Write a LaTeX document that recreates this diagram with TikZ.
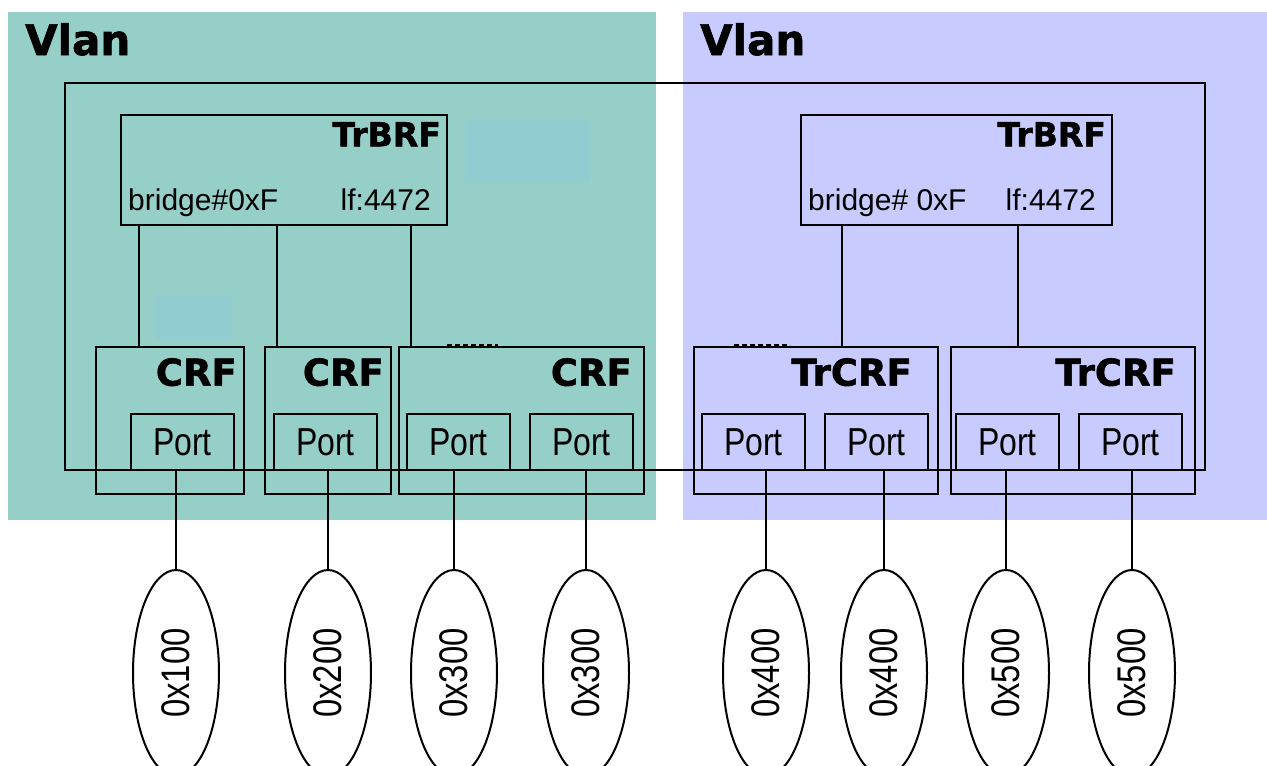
\documentclass[tikz,border=0pt]{standalone}
\usepackage{fontspec}
\setmainfont{Liberation Sans}
\newfontfamily\heavy{DejaVu Sans}[BoldFeatures={FakeBold=1.5}]
\newfontfamily\narrow{Liberation Sans}[FakeStretch=0.82]
\definecolor{vgreen}{HTML}{96CEC8}
\definecolor{vgreenb}{HTML}{90CCD0}
\definecolor{vblue}{HTML}{C8CBFE}
\tikzset{
  box/.style={draw, line width=2pt, inner sep=0pt, outer sep=0pt, anchor=north west},
  portbox/.style={box, minimum width=103pt, minimum height=56pt, font=\narrow\fontsize{39}{39}\selectfont},
  crfbox/.style={box, minimum height=147pt},
  brfbox/.style={box, minimum height=110pt},
  heavylbl/.style={inner sep=0pt, font=\heavy\bfseries\fontsize{37}{37}\selectfont},
  brflbl/.style={inner sep=0pt, font=\heavy\bfseries\fontsize{33}{33}\selectfont},
  vlanlbl/.style={inner sep=0pt, anchor=base west, font=\heavy\bfseries\fontsize{42}{42}\selectfont},
  infolbl/.style={inner sep=0pt, font=\fontsize{30}{30}\selectfont},
  ell/.style={draw, ellipse, line width=2pt, minimum width=86pt, minimum height=206pt, inner sep=0pt, font=\narrow\fontsize{40}{40}\selectfont},
  link/.style={line width=2pt},
  marks/.style={line width=3pt, dash pattern=on 5pt off 3pt}
}
\usetikzlibrary{shapes.geometric}
\begin{document}
\begin{tikzpicture}[x=1pt,y=-1pt]
\useasboundingbox (0,0) rectangle (1267,766);
\fill[white] (0,0) rectangle (1267,766);
\fill[vgreen] (8,12) rectangle (656,520);
\fill[vblue] (683,12) rectangle (1267,520);
\fill[vgreenb] (465,120) rectangle (590,181);
\fill[vgreenb] (155,296) rectangle (232,340);
\node[vlanlbl] (vl1) at (25,55) {Vlan};
\node[vlanlbl] (vl2) at (700,55) {Vlan};
% outer frame
\node[box, minimum width=1140pt, minimum height=387pt] (outer) at (65,83) {};
% TrBRF boxes
\node[brfbox, minimum width=326pt] (brfL) at (121,115) {};
\node[brfbox, minimum width=311pt] (brfR) at (801,115) {};
\node[brflbl, anchor=north east] at ([xshift=-6pt,yshift=-7pt]brfL.north east) {TrBRF};
\node[brflbl, anchor=north east] at ([xshift=-6pt,yshift=-7pt]brfR.north east) {TrBRF};
\node[infolbl, anchor=base west] at ([xshift=7pt,yshift=15pt]brfL.south west) {bridge\#0xF};
\node[infolbl, anchor=base east] at ([xshift=-16pt,yshift=15pt]brfL.south east) {lf:4472};
\node[infolbl, anchor=base west] at ([xshift=7pt,yshift=15pt]brfR.south west) {bridge\# 0xF};
\node[infolbl, anchor=base east] at ([xshift=-16pt,yshift=15pt]brfR.south east) {lf:4472};
% CRF boxes
\node[crfbox, minimum width=148pt] (c1) at (96,347) {};
\node[crfbox, minimum width=126pt] (c2) at (265,347) {};
\node[crfbox, minimum width=245pt] (c3) at (399,347) {};
\node[crfbox, minimum width=244pt] (c4) at (694,347) {};
\node[crfbox, minimum width=244pt] (c5) at (951,347) {};
\node[heavylbl, anchor=north east] at ([xshift=-7pt,yshift=-11pt]c1.north east) {CRF};
\node[heavylbl, anchor=north east] at ([xshift=-7pt,yshift=-11pt]c2.north east) {CRF};
\node[heavylbl, anchor=north east] at ([xshift=-12pt,yshift=-11pt]c3.north east) {CRF};
\node[heavylbl, anchor=north east] at ([xshift=-26pt,yshift=-11pt]c4.north east) {TrCRF};
\node[heavylbl, anchor=north east] at ([xshift=-19pt,yshift=-11pt]c5.north east) {TrCRF};
% ports
\node[portbox] (p1) at (131,414) {Port};
\node[portbox] (p2) at (274,414) {Port};
\node[portbox] (p3) at (407,414) {Port};
\node[portbox] (p4) at (530,414) {Port};
\node[portbox] (p5) at (702,414) {Port};
\node[portbox] (p6) at (825,414) {Port};
\node[portbox] (p7) at (956,414) {Port};
\node[portbox] (p8) at (1079,414) {Port};
% links TrBRF -> CRF
\coordinate (t1) at (139,347);
\coordinate (t2) at (277,347);
\coordinate (t3) at (411,347);
\coordinate (t4) at (842,347);
\coordinate (t5) at (1018,347);
\draw[link] (t1 |- brfL.south) -- (t1);
\draw[link] (t2 |- brfL.south) -- (t2);
\draw[link] (t3 |- brfL.south) -- (t3);
\draw[link] (t4 |- brfR.south) -- (t4);
\draw[link] (t5 |- brfR.south) -- (t5);
% marks
\draw[marks] (447,345) -- (498,345);
\draw[marks] (734,345) -- (790,345);
% ellipses
\node[ell] (e1) at (176,673) {\rotatebox{90}{0x100}};
\node[ell] (e2) at (328,673) {\rotatebox{90}{0x200}};
\node[ell] (e3) at (454,673) {\rotatebox{90}{0x300}};
\node[ell] (e4) at (586,673) {\rotatebox{90}{0x300}};
\node[ell] (e5) at (766,673) {\rotatebox{90}{0x400}};
\node[ell] (e6) at (884,673) {\rotatebox{90}{0x400}};
\node[ell] (e7) at (1006,673) {\rotatebox{90}{0x500}};
\node[ell] (e8) at (1132,673) {\rotatebox{90}{0x500}};
\draw[link] (e1.north) -- (e1.north |- p1.south);
\draw[link] (e2.north) -- (e2.north |- p2.south);
\draw[link] (e3.north) -- (e3.north |- p3.south);
\draw[link] (e4.north) -- (e4.north |- p4.south);
\draw[link] (e5.north) -- (e5.north |- p5.south);
\draw[link] (e6.north) -- (e6.north |- p6.south);
\draw[link] (e7.north) -- (e7.north |- p7.south);
\draw[link] (e8.north) -- (e8.north |- p8.south);
\end{tikzpicture}
\end{document}
